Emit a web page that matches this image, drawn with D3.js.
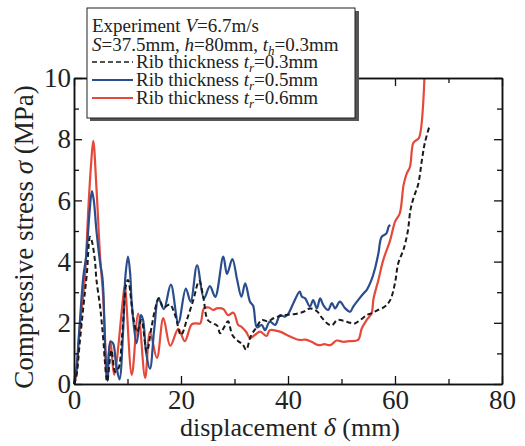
<!DOCTYPE html>
<html>
<head>
<meta charset="utf-8">
<script src="https://cdn.jsdelivr.net/npm/d3@7"></script>
<style>
  body { margin: 0; background: #fff; }
  svg text { font-family: "Liberation Serif", "Times New Roman", serif; fill: #222; }
</style>
</head>
<body>
<svg id="chart" width="525" height="446"></svg>
<script>
// Axis ticks
const xMajorTicks = [0, 20, 40, 60, 80];
const xMinorTicks = [10, 30, 50, 70];
const yMajorTicks = [0, 2, 4, 6, 8, 10];
const yMinorTicks = [1, 3, 5, 7, 9];

// Rib thickness t_r = 0.3 mm (dashed black)
const dispR03 = [0, 0.4, 1.1, 1.8, 2.4, 3.0, 3.3, 3.9, 4.2, 4.9, 5.2, 5.5, 5.8, 6.2, 7.0, 7.7, 8.3, 9.0, 9.8, 10.1,
  11.1, 11.8, 12.6, 13.6, 14.5, 15.3, 15.9, 16.7, 17.9, 18.9, 20.0, 21.1, 22.3, 23.4, 24.2, 25.0, 26.0, 26.8,
  27.3, 28.2, 28.8, 29.6, 30.7, 31.5, 32.2, 33.0, 34.1, 35.1, 36.3, 37.3, 39.1, 41.0, 42.9, 44.1, 45.4, 46.4,
  47.5, 48.2, 49.2, 50.3, 51.6, 52.5, 53.5, 54.7, 55.6, 56.6, 58.1, 59.1, 60.0, 60.6, 61.6, 62.4, 62.9, 63.5,
  64.3, 65.1, 65.6, 66.5];
const stressR03 = [0, 0.2, 1.4, 2.6, 3.6, 4.81, 4.7, 4.05, 3.4, 2.5, 1.98, 1.4, 0.68, 0.08, 1.1, 0.4, 0.5, 1.6, 3.3, 3.4,
  2.15, 1.7, 2.09, 1.05, 1.87, 2.55, 2.8, 2.5, 2.6, 2.25, 1.6, 2.1, 2.75, 3.37, 2.8, 2.09, 1.98, 1.9,
  1.66, 1.9, 2.05, 1.6, 1.4, 1.3, 1.12, 1.55, 1.85, 2.09, 2.05, 2.15, 2.25, 2.28, 2.36, 2.47, 2.38, 2.15,
  1.96, 1.92, 2.09, 2.07, 2.0, 1.98, 2.09, 2.25, 2.31, 2.4, 2.53, 2.74, 3.3, 3.94, 4.4, 5.0, 5.7, 6.1,
  6.5, 7.4, 7.9, 8.46];

// Rib thickness t_r = 0.5 mm (blue)
const dispR05 = [0, 0.4, 1.0, 1.74, 2.3, 2.9, 3.35, 3.7, 4.2, 4.9, 5.3, 5.5, 5.9, 6.3, 6.8, 7.3, 7.85, 8.5, 9.2, 9.6,
  10.1, 10.5, 10.8, 11.7, 12.5, 12.9, 13.5, 14.2, 15.0, 15.8, 16.8, 18.1, 19.5, 20.9, 21.8, 23.0, 24.3, 25.4,
  26.4, 27.9, 28.6, 29.6, 30.5, 31.3, 32.0, 32.9, 33.5, 34.2, 35.1, 35.7, 36.6, 37.6, 38.5, 39.4, 40.1, 41.0,
  42.2, 42.6, 43.2, 44.1, 44.7, 45.4, 46.0, 46.6, 47.5, 48.2, 48.8, 49.7, 50.7, 51.6, 52.2, 53.1, 54.1, 54.7,
  55.6, 56.3, 56.9, 57.5, 58.4, 58.8, 59.1];
const stressR05 = [0, 0.4, 1.8, 3.5, 4.2, 5.6, 6.3, 6.0, 5.0, 3.94, 3.5, 2.96, 0.9, 0.1, 1.38, 1.33, 0.68, 0.15, 1.8, 3.5,
  4.16, 3.6, 2.64, 1.33, 2.25, 2.1, 1.0, 0.5, 1.8, 2.8, 2.45, 3.25, 2.0, 3.12, 2.69, 3.88, 2.8, 3.2,
  2.85, 4.16, 3.6, 4.08, 3.4, 2.85, 3.29, 2.69, 2.55, 1.85, 1.93, 1.76, 2.04, 1.93, 2.25, 2.2, 2.31, 2.64,
  3.02, 2.85, 2.8, 2.53, 2.74, 2.47, 2.8, 2.58, 2.42, 2.64, 2.47, 2.69, 2.47, 2.36, 2.53, 2.74, 2.96, 3.07,
  3.4, 3.8, 4.27, 4.81, 4.92, 5.14, 5.2];

// Rib thickness t_r = 0.6 mm (red)
const dispR06 = [0, 0.4, 1.1, 2.0, 2.7, 3.2, 3.6, 4.2, 4.9, 5.4, 5.8, 6.1, 6.8, 7.5, 9.2, 9.5, 10.8, 12.0, 13.3, 14.2,
  15.5, 16.7, 18.0, 19.5, 20.7, 22.0, 22.9, 23.6, 24.3, 25.2, 26.0, 26.7, 27.9, 28.8, 29.8, 30.7, 31.3, 32.2,
  32.9, 33.8, 34.8, 36.0, 36.6, 38.5, 40.4, 42.2, 43.3, 44.4, 45.7, 46.8, 47.9, 49.1, 50.3, 51.5, 53.1, 53.8,
  54.7, 55.6, 56.0, 56.9, 57.8, 59.1, 60.0, 60.9, 61.6, 62.2, 62.8, 63.4, 64.0, 64.5, 65.5];
const stressR06 = [0, 0.3, 1.9, 3.4, 5.8, 7.2, 7.95, 6.4, 4.1, 3.0, 1.5, 0.2, 1.4, 0.3, 2.85, 3.2, 0.3, 2.3, 0.2, 1.7,
  0.85, 2.15, 1.25, 1.8, 1.4, 1.95, 1.98, 1.98, 2.47, 2.5, 2.42, 2.47, 2.45, 2.25, 2.33, 1.93, 1.87, 1.7,
  1.5, 1.6, 1.71, 1.57, 1.76, 1.71, 1.55, 1.44, 1.45, 1.38, 1.27, 1.3, 1.27, 1.42, 1.38, 1.4, 1.44, 1.82,
  2.09, 2.3, 2.8, 3.4, 4.05, 4.7, 5.3, 5.58, 6.5, 6.88, 7.1, 7.87, 7.97, 8.05, 10.0];

const seriesNames = ["0.3mm", "0.5mm", "0.6mm"];
const seriesColors = ["#1a1a1a", "#2a4d8d", "#e4493a"];

const svg = d3.select("#chart");
const x = d3.scaleLinear().domain([0, 80]).range([74, 502]);
const y = d3.scaleLinear().domain([0, 10]).range([384, 78]);

const series = [
  { name: seriesNames[0], color: seriesColors[0], dash: "5,3", pts: dispR03.map((d, i) => [d, stressR03[i]]) },
  { name: seriesNames[1], color: seriesColors[1], dash: null, pts: dispR05.map((d, i) => [d, stressR05[i]]) },
  { name: seriesNames[2], color: seriesColors[2], dash: null, pts: dispR06.map((d, i) => [d, stressR06[i]]) }
];

const line = d3.line()
  .x(d => x(d[0]))
  .y(d => y(d[1]))
  .curve(d3.curveCatmullRom.alpha(0.5));

// Curves (red underneath, then blue, dashed black on top)
const order = [2, 1, 0];
svg.append("g").selectAll("path")
  .data(order.map(i => series[i]))
  .join("path")
  .attr("d", s => line(s.pts))
  .attr("fill", "none")
  .attr("stroke", s => s.color)
  .attr("stroke-width", s => s.dash ? 2 : 2.2)
  .attr("stroke-dasharray", s => s.dash)
  .attr("stroke-linejoin", "round");

// Axes with inward ticks on all four sides
const tickFont = 27;
function styleAxis(g) {
  g.select(".domain").attr("stroke", "#111").attr("stroke-width", 1.5);
  g.selectAll(".tick line").attr("stroke", "#111").attr("stroke-width", 1.3);
  g.selectAll(".tick text")
    .attr("fill", "#222")
    .style("font-family", '"Liberation Serif", "Times New Roman", serif')
    .style("font-size", tickFont + "px");
}

svg.append("g").attr("transform", `translate(0,${y(0)})`)
  .call(d3.axisBottom(x).tickValues(xMajorTicks).tickSize(-8).tickSizeOuter(0).tickPadding(6).tickFormat(d3.format("d")))
  .call(styleAxis);
svg.append("g").attr("transform", `translate(0,${y(0)})`)
  .call(d3.axisBottom(x).tickValues(xMinorTicks).tickSize(-5).tickSizeOuter(0).tickFormat(""))
  .call(styleAxis);
svg.append("g").attr("transform", `translate(0,${y(10)})`)
  .call(d3.axisTop(x).tickValues(xMajorTicks).tickSize(-8).tickSizeOuter(0).tickFormat(""))
  .call(styleAxis);
svg.append("g").attr("transform", `translate(0,${y(10)})`)
  .call(d3.axisTop(x).tickValues(xMinorTicks).tickSize(-5).tickSizeOuter(0).tickFormat(""))
  .call(styleAxis);

svg.append("g").attr("transform", `translate(${x(0)},0)`)
  .call(d3.axisLeft(y).tickValues(yMajorTicks).tickSize(-8).tickSizeOuter(0).tickPadding(3).tickFormat(d3.format("d")))
  .call(styleAxis);
svg.append("g").attr("transform", `translate(${x(0)},0)`)
  .call(d3.axisLeft(y).tickValues(yMinorTicks).tickSize(-5).tickSizeOuter(0).tickFormat(""))
  .call(styleAxis);
svg.append("g").attr("transform", `translate(${x(80)},0)`)
  .call(d3.axisRight(y).tickValues(yMajorTicks).tickSize(-8).tickSizeOuter(0).tickFormat(""))
  .call(styleAxis);
svg.append("g").attr("transform", `translate(${x(80)},0)`)
  .call(d3.axisRight(y).tickValues(yMinorTicks).tickSize(-5).tickSizeOuter(0).tickFormat(""))
  .call(styleAxis);

// Axis titles
const xTitle = svg.append("text")
  .attr("x", 290).attr("y", 436)
  .attr("text-anchor", "middle")
  .style("font-size", "26px");
xTitle.append("tspan").text("displacement ");
xTitle.append("tspan").style("font-style", "italic").text("δ");
xTitle.append("tspan").text(" (mm)");

const yTitle = svg.append("text")
  .attr("transform", "translate(33,237) rotate(-90)")
  .attr("text-anchor", "middle")
  .style("font-size", "27px");
yTitle.append("tspan").text("Compressive stress ");
yTitle.append("tspan").style("font-style", "italic").text("σ");
yTitle.append("tspan").text(" (MPa)");

// Legend box with drop shadow
const lg = svg.append("g");
lg.append("rect").attr("x", 90).attr("y", 11).attr("width", 269).attr("height", 110).attr("fill", "#555");
lg.append("rect").attr("x", 87).attr("y", 8).attr("width", 268).attr("height", 110)
  .attr("fill", "#fff").attr("stroke", "#222").attr("stroke-width", 1);

const lgFont = "19px";
const l1 = lg.append("text").attr("x", 92).attr("y", 32).style("font-size", lgFont);
l1.append("tspan").text("Experiment  ");
l1.append("tspan").style("font-style", "italic").text("V");
l1.append("tspan").text("=6.7m/s");

const l2 = lg.append("text").attr("x", 92).attr("y", 51).style("font-size", lgFont);
l2.append("tspan").style("font-style", "italic").text("S");
l2.append("tspan").text("=37.5mm, ");
l2.append("tspan").style("font-style", "italic").text("h");
l2.append("tspan").text("=80mm, ");
l2.append("tspan").style("font-style", "italic").text("t");
l2.append("tspan").style("font-style", "italic").style("font-size", "13px").attr("dy", 4).text("h");
l2.append("tspan").attr("dy", -4).text("=0.3mm");

const rowY = [62, 80, 98];
series.forEach((s, i) => {
  lg.append("line")
    .attr("x1", 92).attr("x2", 133)
    .attr("y1", rowY[i]).attr("y2", rowY[i])
    .attr("stroke", s.color).attr("stroke-width", s.dash ? 1.6 : 1.8)
    .attr("stroke-dasharray", s.dash);
  const t = lg.append("text").attr("x", 136).attr("y", rowY[i] + 6).style("font-size", lgFont);
  t.append("tspan").text("Rib thickness ");
  t.append("tspan").style("font-style", "italic").text("t");
  t.append("tspan").style("font-style", "italic").style("font-size", "13px").attr("dy", 4).text("r");
  t.append("tspan").attr("dy", -4).text("=" + s.name);
});
</script>
</body>
</html>
